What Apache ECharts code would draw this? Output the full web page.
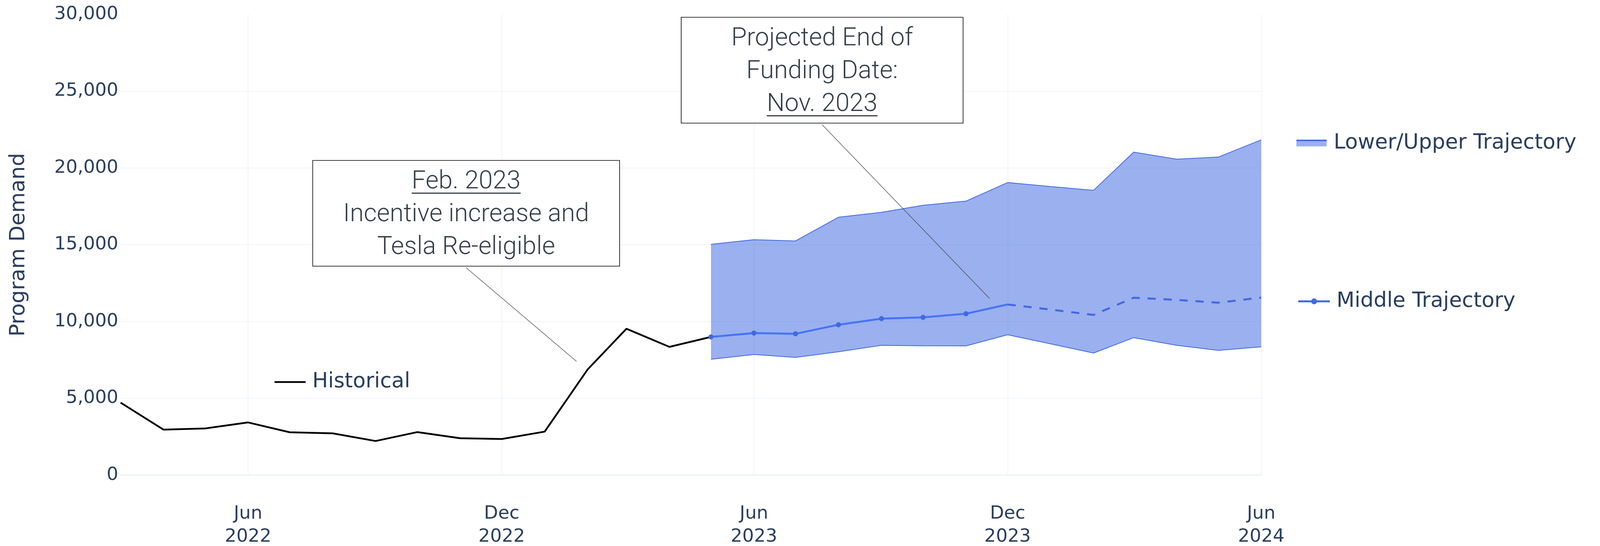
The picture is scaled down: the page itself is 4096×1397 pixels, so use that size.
<!DOCTYPE html>
<html>
<head>
<meta charset="utf-8">
<script src="https://cdn.jsdelivr.net/npm/echarts@6/dist/echarts.min.js"></script>
<style>
  html, body { margin: 0; padding: 0; background: #fff; }
  #main { width: 4096px; height: 1397px; }
</style>
</head>
<body>
<div id="main"></div>
<script>
// historical demand, monthly
var histDates = ['2022-03-01', '2022-04-01', '2022-05-01', '2022-06-01', '2022-07-01', '2022-08-01',
  '2022-09-01', '2022-10-01', '2022-11-01', '2022-12-01', '2023-01-01', '2023-02-01',
  '2023-03-01', '2023-04-01', '2023-05-01'];
var histValues = [4720, 2960, 3040, 3430, 2790, 2720, 2220, 2800, 2400, 2350, 2830, 6880, 9530, 8350, 9000];

// projections, monthly
var trajDates = ['2023-05-01', '2023-06-01', '2023-07-01', '2023-08-01', '2023-09-01', '2023-10-01',
  '2023-11-01', '2023-12-01', '2024-01-01', '2024-02-01', '2024-03-01', '2024-04-01',
  '2024-05-01', '2024-06-01'];
var lowerValues = [7540, 7855, 7660, 8030, 8450, 8420, 8415, 9140, 8545, 7950, 8950, 8450, 8120, 8350];
var upperValues = [15030, 15330, 15250, 16790, 17110, 17570, 17840, 19050, 18790, 18540, 21030, 20570, 20710, 21830];
var middleValues = [9000, 9250, 9200, 9790, 10190, 10270, 10510, 11110, 10780, 10430, 11550, 11410, 11225, 11560];
var middleSolidCount = 8; // May..Dec 2023 solid, then dashed

// axis ticks
var xTickDates = ['2022-06-01', '2022-12-01', '2023-06-01', '2023-12-01', '2024-06-01'];
var monthNames = ['Jan', 'Feb', 'Mar', 'Apr', 'May', 'Jun', 'Jul', 'Aug', 'Sep', 'Oct', 'Nov', 'Dec'];

// annotations
var noteLines = [
  ['Feb. 2023', 'Incentive increase and', 'Tesla Re-eligible'],
  ['Projected End of', 'Funding Date:', 'Nov. 2023']
];
var noteUnderlined = [0, 2];
var noteTips = [['2023-01-24', 7400], ['2023-11-18', 11500]];

var textColor = '#2a3f5f';
var blue = '#4169e1';
var bandFill = 'rgba(65,105,225,0.53)';
var uiFont = 'DejaVu Sans';

function ts(s) {
  var p = s.split('-');
  return Date.UTC(+p[0], +p[1] - 1, +p[2]);
}
function pairs(dates, vals) {
  return dates.map(function (d, i) { return [ts(d), vals[i]]; });
}

var legendText = { color: textColor, fontFamily: uiFont, fontSize: 53.5, lineHeight: 54, padding: [0, 0, 0, 12] };

var chart = echarts.init(document.getElementById('main'));

chart.setOption({
  animation: false,
  backgroundColor: '#fff',
  grid: { left: 308.7, right: 867.3, top: 36.8, bottom: 181.4, containLabel: false, outerBoundsMode: 'none' },
  xAxis: {
    type: 'value',
    min: ts(histDates[0]),
    max: ts(trajDates[trajDates.length - 1]),
    axisLine: { show: true, lineStyle: { color: '#ebf0f8', width: 3 } },
    axisTick: { show: false, customValues: xTickDates.map(ts) },
    axisLabel: {
      customValues: xTickDates.map(ts),
      color: textColor,
      fontFamily: uiFont,
      fontSize: 46.8,
      lineHeight: 59,
      margin: 70,
      formatter: function (val) {
        var d = new Date(val);
        return monthNames[d.getUTCMonth()] + '\n' + d.getUTCFullYear();
      }
    },
    splitLine: { show: true, lineStyle: { color: '#ebf0f8', width: 1.5 } }
  },
  yAxis: {
    type: 'value',
    min: 0,
    max: 30000,
    interval: 5000,
    name: 'Program Demand',
    nameLocation: 'middle',
    nameGap: 234,
    nameRotate: 90,
    nameTextStyle: { color: textColor, fontFamily: uiFont, fontSize: 53.5 },
    axisLine: { show: false },
    axisTick: { show: false },
    axisLabel: {
      color: textColor,
      fontFamily: uiFont,
      fontSize: 46.8,
      margin: 6,
      formatter: function (v) { return v.toLocaleString('en-US'); }
    },
    splitLine: { show: true, showMaxLine: false, lineStyle: { color: '#ebf0f8', width: 1.5 } }
  },
  legend: [
    {
      data: [{ name: 'Historical', icon: 'rect' }],
      left: 702.8, top: 950.5, padding: 0,
      itemWidth: 79.6, itemHeight: 4.5,
      selectedMode: false,
      textStyle: legendText
    },
    {
      data: [{
        name: 'Lower/Upper Trajectory',
        icon: 'image://data:image/svg+xml;utf8,' +
          '<svg xmlns="http://www.w3.org/2000/svg" width="80" height="18">' +
          '<rect width="80" height="18" fill="%239ab0ee"/><rect width="80" height="4" fill="%234169e1"/></svg>'
      }],
      left: 3317.7, top: 339, padding: 0,
      itemWidth: 79.6, itemHeight: 17.5,
      selectedMode: false,
      textStyle: legendText
    },
    {
      data: [{ name: 'Middle Trajectory', lineStyle: { width: 5, color: blue } }],
      left: 3321, top: 744, padding: 0,
      itemWidth: 81, itemHeight: 18.5,
      selectedMode: false,
      textStyle: legendText
    }
  ],
  series: [
    {
      // filled band between the lower and upper trajectories
      name: 'band',
      type: 'custom',
      silent: true,
      data: trajDates.map(function (d, i) { return [ts(d), lowerValues[i], upperValues[i]]; }),
      encode: { x: 0, y: [1, 2] },
      renderItem: function (params, api) {
        if (params.dataIndex !== 0) return null;
        var top = [], bottom = [];
        for (var i = 0; i < trajDates.length; i++) {
          top.push(api.coord([ts(trajDates[i]), upperValues[i]]));
          bottom.unshift(api.coord([ts(trajDates[i]), lowerValues[i]]));
        }
        return { type: 'polygon', shape: { points: top.concat(bottom) }, style: { fill: bandFill } };
      },
      z: 1
    },
    {
      name: 'Lower/Upper Trajectory',
      type: 'line',
      data: pairs(trajDates, lowerValues),
      symbol: 'none',
      color: blue,
      lineStyle: { color: blue, width: 2 },
      z: 2
    },
    {
      name: 'Lower/Upper Trajectory',
      type: 'line',
      data: pairs(trajDates, upperValues),
      symbol: 'none',
      color: blue,
      lineStyle: { color: blue, width: 2 },
      z: 2
    },
    {
      name: 'Historical',
      type: 'line',
      data: pairs(histDates, histValues),
      symbol: 'none',
      color: '#000',
      lineStyle: { color: '#000', width: 4.5 },
      z: 3
    },
    {
      name: 'Middle Trajectory',
      type: 'line',
      data: pairs(trajDates.slice(0, middleSolidCount), middleValues.slice(0, middleSolidCount)),
      symbol: 'circle',
      showAllSymbol: true,
      symbolSize: function (v, p) { return p.dataIndex === middleSolidCount - 1 ? 0 : 13; },
      color: blue,
      itemStyle: { color: blue },
      lineStyle: { color: blue, width: 5 },
      z: 4
    },
    {
      name: 'Middle Trajectory',
      type: 'line',
      data: pairs(trajDates.slice(middleSolidCount - 1), middleValues.slice(middleSolidCount - 1)),
      symbol: 'none',
      color: blue,
      lineStyle: { color: blue, width: 5, type: [21, 20] },
      z: 4
    }
  ]
});

// annotation boxes (pixel layout), leader lines end at data points
var noteBoxes = [
  { x: 800.5, y: 410.5, w: 785.7, h: 270.5 },
  { x: 1743.8, y: 44.3, w: 721.7, h: 270.7 }
];
var noteFont = '300 64.5px Roboto';
var noteColor = '#363f4a';
var lineGap = 84;
var measure = document.createElement('canvas').getContext('2d');
measure.font = noteFont;

var graphics = [];
noteBoxes.forEach(function (b, k) {
  var cx = b.x + b.w / 2;
  var cy = b.y + b.h / 2;
  var tip = chart.convertToPixel({ gridIndex: 0 }, [ts(noteTips[k][0]), noteTips[k][1]]);
  graphics.push({
    type: 'line', z: 100,
    shape: { x1: cx, y1: b.y + b.h + 4, x2: tip[0], y2: tip[1] },
    style: { stroke: '#444', lineWidth: 1.2 }
  });
  graphics.push({
    type: 'rect', z: 101,
    shape: { x: b.x, y: b.y, width: b.w, height: b.h },
    style: { fill: '#fff', stroke: '#000', lineWidth: 1.6 }
  });
  noteLines[k].forEach(function (t, i) {
    var ty = cy + (i - 1) * lineGap + 4;
    graphics.push({
      type: 'text', z: 102,
      style: { text: t, x: cx, y: ty, align: 'center', verticalAlign: 'middle', font: noteFont, fill: noteColor }
    });
    if (i === noteUnderlined[k]) {
      var w = measure.measureText(t).width;
      graphics.push({
        type: 'rect', z: 102,
        shape: { x: cx - w / 2, y: ty + 27, width: w, height: 3 },
        style: { fill: noteColor }
      });
    }
  });
});
chart.setOption({ graphic: graphics });
</script>
</body>
</html>
